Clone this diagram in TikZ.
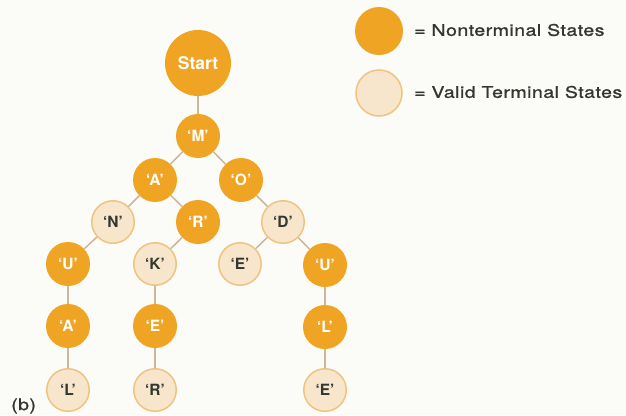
\documentclass[tikz,border=0pt]{standalone}
\usepackage{fontspec}
\setmainfont{TeX Gyre Heros}
\newfontfamily\keyfont[FakeStretch=1.22, LetterSpace=3, FakeBold=1.2]{TeX Gyre Heros}
\definecolor{nonterm}{RGB}{240,164,36}
\definecolor{termfill}{RGB}{248,230,204}
\definecolor{termline}{RGB}{238,196,128}
\definecolor{edgecol}{RGB}{200,184,158}
\definecolor{inkcol}{RGB}{50,55,48}
\definecolor{paper}{RGB}{251,251,248}
\tikzset{
  nt/.style={circle, fill=nonterm, draw=none, minimum size=44pt, inner sep=0pt,
             text=white, font=\bfseries\fontsize{15.5}{15.5}\selectfont},
  vt/.style={circle, fill=termfill, draw=termline, line width=1.5pt, minimum size=42.5pt,
             inner sep=0pt, text=inkcol, font=\bfseries\fontsize{15.5}{15.5}\selectfont},
  link/.style={draw=edgecol, line width=1.5pt},
  legendtext/.style={anchor=west, text=inkcol, inner sep=0pt, font=\keyfont\fontsize{16}{16}\selectfont}
}
\begin{document}
\begin{tikzpicture}[x=1pt,y=-1pt]
\fill[paper] (0,0) rectangle (626,415);
\useasboundingbox (0,0) rectangle (626,415);

% tree nodes
\node[nt, minimum size=66pt, font=\bfseries\fontsize{17.5}{17.5}\selectfont] (start) at (198,63) {Start};
\node[nt] (m)  at (198,136) {‘M’};
\node[nt] (a1) at (155,180) {‘A’};
\node[nt] (o)  at (241,180) {‘O’};
\node[vt] (n)  at (113,222) {‘N’};
\node[nt] (r1) at (198,222) {‘R’};
\node[vt] (d)  at (283,222) {‘D’};
\node[nt] (u1) at (68,264)  {‘U’};
\node[vt] (k)  at (155,264) {‘K’};
\node[vt] (e1) at (240,264) {‘E’};
\node[nt] (u2) at (325,265) {‘U’};
\node[nt] (a2) at (68,326)  {‘A’};
\node[nt] (e2) at (155,326) {‘E’};
\node[nt] (l1) at (325,327) {‘L’};
\node[vt] (l2) at (68,390)  {‘L’};
\node[vt] (r2) at (155,390) {‘R’};
\node[vt] (e3) at (325,390) {‘E’};

% connectors between the circles
\draw[link] (start) -- (m);
\draw[link] (m) -- (a1);
\draw[link] (m) -- (o);
\draw[link] (a1) -- (n);
\draw[link] (a1) -- (r1);
\draw[link] (o) -- (d);
\draw[link] (n) -- (u1);
\draw[link] (r1) -- (k);
\draw[link] (d) -- (e1);
\draw[link] (d) -- (u2);
\draw[link] (u1) -- (a2);
\draw[link] (a2) -- (l2);
\draw[link] (k) -- (e2);
\draw[link] (e2) -- (r2);
\draw[link] (u2) -- (l1);
\draw[link] (l1) -- (e3);

% legend
\node[nt, minimum size=48pt] (keynt) at (379,31) {};
\node[vt, minimum size=46pt] (keyvt) at (379,93) {};
\node[legendtext] (keynttext) at (414,30) {= Nonterminal States};
\node[legendtext] (keyvttext) at (414,92) {= Valid Terminal States};

% panel label
\node[anchor=west, inner sep=0pt, text=inkcol, font=\keyfont\fontsize{16}{16}\selectfont] (panel) at (11,406) {(b)};
\end{tikzpicture}
\end{document}
